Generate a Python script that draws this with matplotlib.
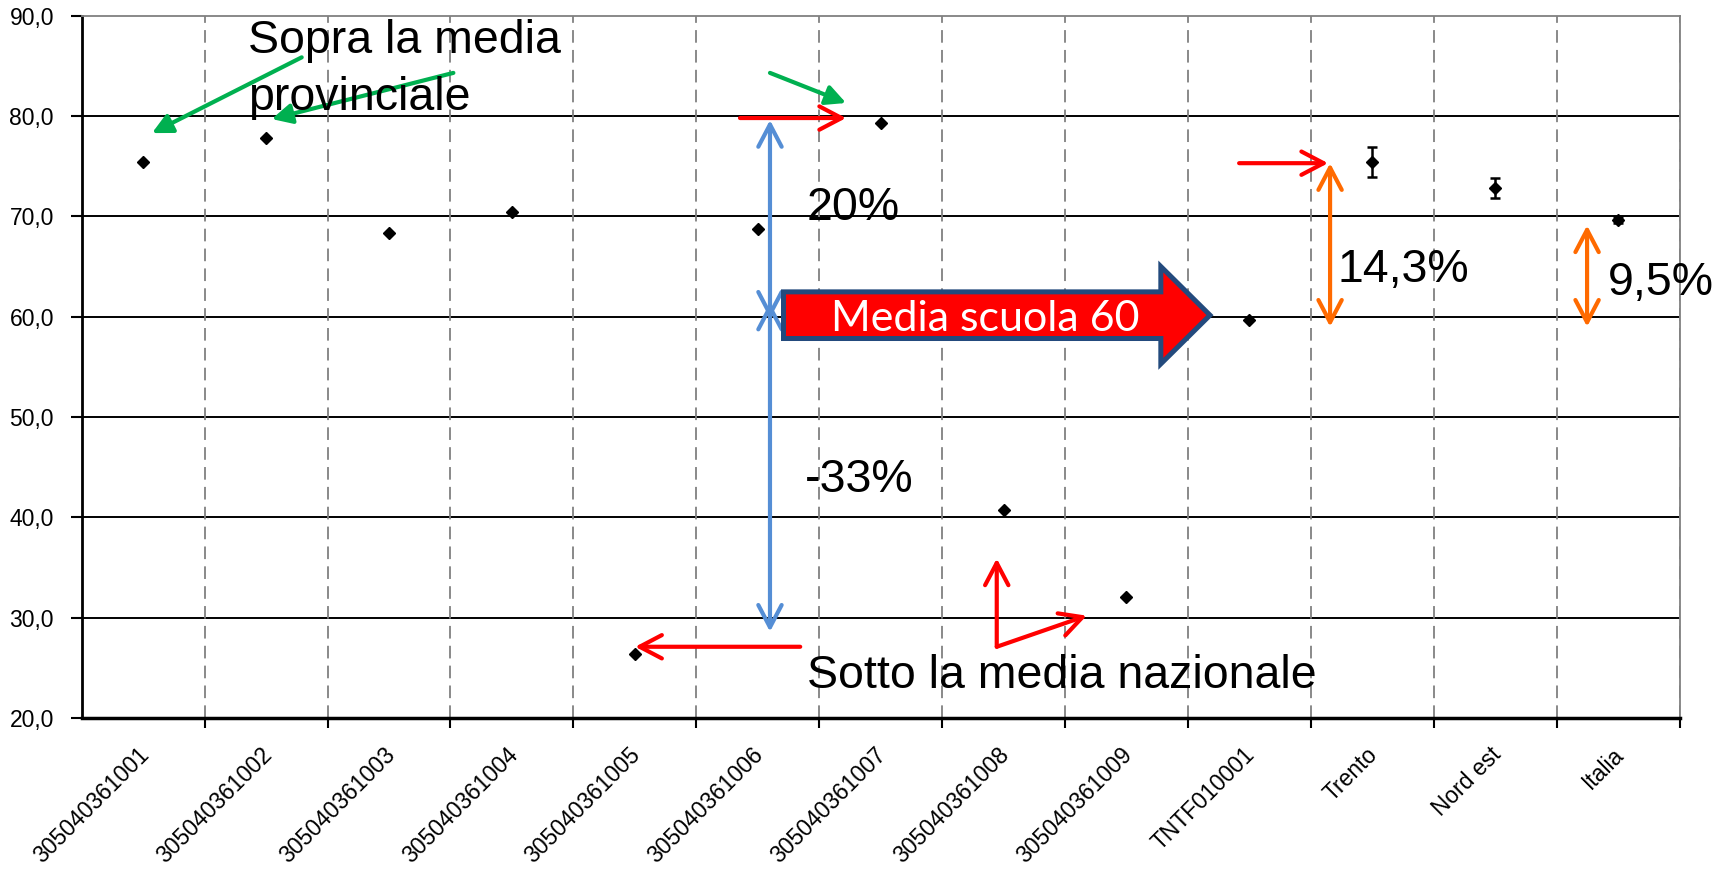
import matplotlib
matplotlib.use('Agg')
import matplotlib.pyplot as plt
from matplotlib.patches import FancyArrow
from matplotlib.transforms import ScaledTranslation
import numpy as np

categories = ['305040361001', '305040361002', '305040361003', '305040361004',
              '305040361005', '305040361006', '305040361007', '305040361008',
              '305040361009', 'TNTF010001', 'Trento', 'Nord est', 'Italia']
values = [75.4, 77.8, 68.3, 70.4, 26.4, 68.7, 79.3, 40.7, 32.1, 59.7, 75.45, 72.8, 69.6]
errors = [0, 0, 0, 0, 0, 0, 0, 0, 0, 0, 1.5, 1.0, 0.3]
y_ticks = [20, 30, 40, 50, 60, 70, 80, 90]

plt.rcParams['font.family'] = ['Liberation Sans', 'DejaVu Sans']

W, H = 1729, 872
fig = plt.figure(figsize=(W / 100, H / 100), dpi=100)
ax = fig.add_axes([81.7 / W, 1 - 718 / H, (1679.5 - 81.7) / W, (718 - 15.7) / H])

x = np.arange(len(categories))
ax.set_xlim(-0.5, len(categories) - 0.5)
ax.set_ylim(20, 90)

# horizontal gridlines
for yv in y_ticks[1:-1]:
    ax.axhline(yv, color='black', lw=1.4, zorder=1)

ax.plot(x, values, 'D', color='black', ms=6, zorder=6)
ei = [i for i, e in enumerate(errors) if e > 0]
ax.errorbar([x[i] for i in ei], [values[i] for i in ei], yerr=[errors[i] for i in ei],
            fmt='none', ecolor='black', elinewidth=1.8, capsize=3.3, capthick=1.8, zorder=6)

ax.set_yticks(y_ticks)
ax.set_yticklabels([f'{v:.1f}'.replace('.', ',') for v in y_ticks])
ax.tick_params(axis='y', length=8, width=1.5, direction='out', pad=12, labelsize=16.5)

ax.set_xticks(x)
ax.set_xticklabels(categories, rotation=45, ha='right', va='top',
                   rotation_mode='anchor')
ax.tick_params(axis='x', which='major', length=0, pad=18, labelsize=16.5)
ax.set_xticks(np.arange(0.5, len(categories) - 0.5 + 0.01), minor=True)
ax.tick_params(axis='x', which='minor', length=7, width=1.5, direction='out', color='black')
ax.grid(axis='x', which='minor', linestyle=(0, (7, 4)), color='#808080', lw=1.3, zorder=0)

shift = ScaledTranslation(-6 / 100, 0, fig.dpi_scale_trans)
for lbl in ax.get_xticklabels():
    lbl.set_transform(lbl.get_transform() + shift)

for s in ['top', 'right']:
    ax.spines[s].set_color('#808080')
    ax.spines[s].set_linewidth(1.3)
ax.spines['left'].set_linewidth(2)
ax.spines['bottom'].set_linewidth(2.5)


def arrow(x0, y0, x1, y1, color, style, lw=3, ms=20):
    ax.annotate('', xy=(x1, y1), xytext=(x0, y0),
                arrowprops=dict(arrowstyle=style, color=color, lw=lw,
                                shrinkA=0, shrinkB=0, mutation_scale=ms),
                zorder=7, annotation_clip=False)


open_head = '->,head_length=0.8,head_width=0.42'
both_head = '<->,head_length=0.8,head_width=0.42'
fill_head = '-|>,head_length=0.6,head_width=0.3'

RED = '#FF0000'
GREEN = '#00B050'
BLUE = '#558ED5'
ORANGE = '#FF6A00'

# big red arrow
ax.add_patch(FancyArrow(5.21, 60.15, 8.68 - 5.21, 0, width=4.65, head_width=9.7,
                        head_length=0.40, length_includes_head=True,
                        facecolor=RED, edgecolor='#234A7D', lw=3.6, zorder=8))
ax.text(6.854, 58.57, 'Media scuola 60', color='white', fontsize=31,
        family=['Lato', 'DejaVu Sans'], ha='center', va='baseline', zorder=9)

# blue double arrows
arrow(5.10, 59.8, 5.10, 79.6, BLUE, both_head)
arrow(5.10, 28.6, 5.10, 61.4, BLUE, both_head)

# red arrows
arrow(4.856, 79.8, 5.719, 79.8, RED, open_head)
arrow(5.346, 27.1, 4.003, 27.1, RED, open_head)
arrow(6.945, 27.1, 6.945, 35.9, RED, open_head)
arrow(6.945, 27.1, 7.677, 30.2, RED, open_head)
arrow(8.917, 75.3, 9.641, 75.3, RED, open_head)

# orange double arrows
arrow(9.657, 59.0, 9.657, 75.3, ORANGE, both_head)
arrow(11.748, 59.0, 11.748, 69.1, ORANGE, both_head)

# green arrows
arrow(1.290, 85.85, 0.072, 78.3, GREEN, fill_head)
arrow(2.524, 84.3, 1.046, 79.7, GREEN, fill_head)
arrow(5.10, 84.3, 5.719, 81.3, GREEN, fill_head)

TS = 33.5
ax.text(0.851, 86.25, 'Sopra la media', fontsize=TS, va='baseline', zorder=9)
ax.text(0.851, 80.6, 'provinciale', fontsize=TS, va='baseline', zorder=9)
ax.text(5.40, 69.6, '20%', fontsize=TS, va='baseline', zorder=9)
ax.text(5.385, 42.5, '-33%', fontsize=TS, va='baseline', zorder=9)
ax.text(5.399, 23.0, 'Sotto la media nazionale', fontsize=TS, va='baseline', zorder=9)
ax.text(9.714, 63.45, '14,3%', fontsize=TS, va='baseline', zorder=9)
ax.text(11.92, 62.16, '9,5%', fontsize=TS, va='baseline', zorder=9)

fig.savefig('out.png', dpi=100)
